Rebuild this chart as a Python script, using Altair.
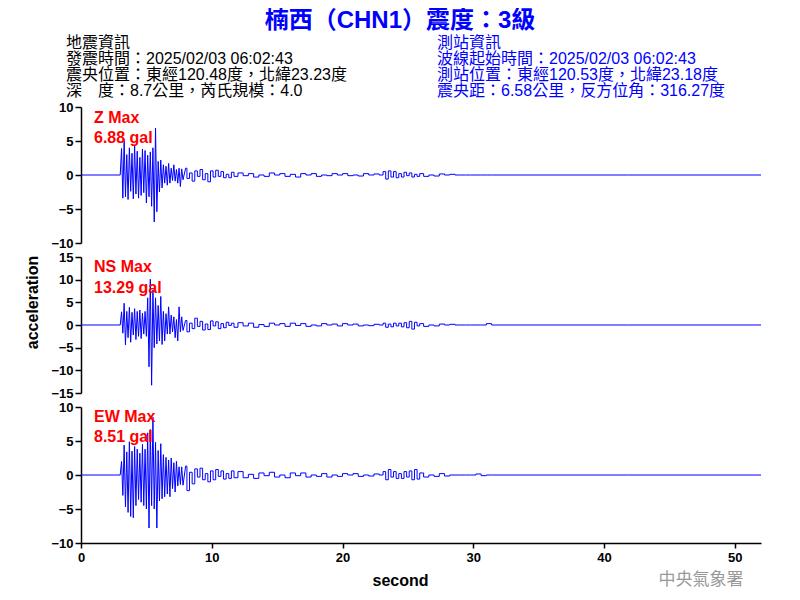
import altair as alt
import pandas as pd

# ---------------- data ----------------
TIME = [0.0, 3.0,
        3.1, 3.2, 3.3, 3.4, 3.5, 3.6, 3.7, 3.8, 3.9, 4.0,
        4.1, 4.2, 4.3, 4.4, 4.5, 4.6, 4.7, 4.8, 4.9, 5.0,
        5.1, 5.2, 5.3, 5.4, 5.5, 5.6, 5.7, 5.8, 5.9, 6.0,
        6.1, 6.2, 6.3, 6.4, 6.5, 6.6, 6.7, 6.8, 6.9, 7.0,
        7.1, 7.2, 7.3, 7.4, 7.5, 7.6, 7.7, 7.8,
        8.0, 8.2, 8.4, 8.6, 8.8, 9.0, 9.2, 9.4, 9.6, 9.8,
        10.0, 10.2, 10.4, 10.6, 10.8, 11.0, 11.2, 11.4, 11.6, 11.8,
        12.2, 12.6, 13.0, 13.4, 13.8, 14.2, 14.6, 15.0, 15.4, 15.8,
        16.2, 16.6, 17.0, 17.4, 17.8, 18.2, 18.6, 19.0, 19.4, 19.8,
        20.2, 20.6, 21.0, 21.4, 21.8, 22.2, 22.6,
        23.0,
        23.2, 23.4, 23.6, 23.8, 24.0, 24.2, 24.4, 24.6, 24.8, 25.0,
        25.2, 25.4, 25.6, 25.8, 26.0,
        26.4, 26.8, 27.2, 27.6, 28.0, 28.4, 28.8, 29.2, 29.6, 30.0,
        30.4, 30.8, 31.2,
        31.6, 52.0]

Z_A = [3.9, -3.4, 5.3, -3.2, 3.0, -3.6, 4.0, -2.4, 3.2, -3.5,
       4.4, -2.8, 3.5, -3.4, 2.6, -3.0, 3.8, -2.6, 3.6, -4.1,
       2.9, -3.2, 3.4, -4.6, 4.0, -6.9, 6.88, -5.4, 2.0, -2.5,
       2.2, -1.9, 1.5, -1.2, 1.3, -1.5, 1.7, -1.2, 1.0, -0.8,
       1.5, -0.9, 0.8, -1.2, 1.0, -1.7, 0.9, -0.7]
Z_B = [1.0, -0.5, 0.3, -0.9, 0.6, -0.2, 0.8, -0.7, 0.2, -1.0,
       0.6, -0.3, 0.7, -0.2, 0.5, -0.4, 0.1, -0.4, 0.4, -0.2]
Z_C = [0.3, -0.1, 0.2, -0.3, 0.0, -0.2, 0.3, 0.0, 0.2, -0.2,
       0.1, -0.3, 0.2, 0.0, 0.2, -0.2, 0.0, -0.1, 0.2, 0.0,
       0.2, -0.1, 0.0, -0.15, 0.2, 0.0, 0.15]
Z_D = [0.5, -0.6, 0.6, -0.3, 0.5, -0.4, 0.2, -0.3, 0.4, -0.1,
       0.3, -0.3, 0.1, -0.2, 0.2]
Z_E = [-0.2, 0.0, -0.15, 0.15, 0.0, 0.1, 0, 0, 0, 0, 0, 0, 0]

NS_A = [2.9, -1.8, 4.8, -4.4, 3.0, -2.8, 3.9, -3.8, 2.8, -2.2,
        3.6, -3.2, 3.0, -2.5, 3.3, -3.0, 2.6, -2.0, 3.0, -2.5,
        6.0, -9.2, 10.1, -13.29, 7.7, -5.0, 6.0, -4.2, 4.3, -3.5,
        6.3, -4.3, 3.0, -3.5, 2.5, -2.0, 4.0, -2.0, 2.2, -1.5,
        1.8, -2.8, 1.2, -3.5, 4.0, -1.5, 1.8, -1.2]
NS_B = [1.0, -1.5, 0.4, -0.8, 1.5, -0.3, 0.8, -1.1, 0.2, -1.0,
        0.9, -0.2, 0.7, -0.8, 0.3, -0.6, 0.6, -0.1, 0.4, -0.5]
NS_C = [0.5, -0.2, 0.4, -0.5, 0.1, -0.3, 0.4, 0.0, 0.3, -0.3,
        0.4, -0.1, 0.3, -0.3, 0.0, -0.2, 0.3, 0.0, 0.2, -0.2,
        0.3, 0.0, 0.2, -0.2, 0.0, -0.15, 0.15]
NS_D = [0.4, -0.5, 0.2, -0.4, 0.4, -0.2, 0.4, -0.4, 0.5, -0.6,
        0.8, -0.9, 0.6, -0.2, 0.3]
NS_E = [-0.3, 0.0, -0.2, 0.2, 0.0, 0.15, 0, 0, 0, 0, 0, 0, 0.3]

EW_A = [2.0, -3.0, 4.4, -4.7, 3.4, -5.5, 4.9, -6.1, 3.5, -6.3,
        4.2, -4.5, 3.8, -3.6, 3.2, -4.0, 4.5, -4.5, 3.8, -5.0,
        6.2, -7.8, 6.7, -4.5, 8.51, -5.0, 4.8, -7.8, 3.6, -3.8,
        4.6, -3.5, 3.0, -3.2, 2.6, -2.8, 2.2, -3.2, 2.5, -2.0,
        1.8, -2.5, 2.0, -1.6, 1.2, -1.4, 1.2, -1.5]
EW_B = [1.3, -2.3, 0.4, -1.3, 0.9, -0.3, 1.0, -0.7, 0.2, -1.0,
        0.6, -0.7, 0.8, -0.2, 0.6, -0.6, 0.2, -0.5, 0.6, -0.4]
EW_C = [0.5, -0.4, 0.1, -0.5, 0.3, -0.1, 0.4, -0.3, 0.0, -0.4,
        0.3, -0.1, 0.3, -0.3, 0.0, -0.2, 0.2, -0.3, 0.0, -0.2,
        0.2, 0.0, 0.2, -0.2, 0.0, -0.15, 0.15]
EW_D = [0.5, -0.7, 0.8, -0.3, 0.5, -0.5, 0.2, -0.5, 0.5, -0.3,
        0.6, -0.7, 0.8, -0.6, 0.3]
EW_E = [-0.3, 0.0, -0.2, 0.2, -0.15, 0.0, 0, 0, 0, 0, 0.15, -0.1, 0]

COMPONENTS = ["Z", "NS", "EW"]
MAX_LABELS = ["Z Max\n6.88 gal", "NS Max\n13.29 gal", "EW Max\n8.51 gal"]
Y_DOMAINS = [[-10, 10], [-15, 15], [-10, 10]]
Y_TICKS = [[-10, -5, 0, 5, 10], [-15, -10, -5, 0, 5, 10, 15], [-10, -5, 0, 5, 10]]
X_TICKS = [0, 10, 20, 30, 40, 50]

TITLE = "楠西（CHN1）震度：3級"
LEFT_INFO = "地震資訊\n發震時間：2025/02/03 06:02:43\n震央位置：東經120.48度，北緯23.23度\n深　度：8.7公里，芮氏規模：4.0"
RIGHT_INFO = "測站資訊\n波線起始時間：2025/02/03 06:02:43\n測站位置：東經120.53度，北緯23.18度\n震央距：6.58公里，反方位角：316.27度"
MARK = "中央氣象署"


def assemble(a, b, c, d, e):
    return [0, 0] + a + b + c + [0] + d + e + [0, 0]


SERIES = {
    "Z": assemble(Z_A, Z_B, Z_C, Z_D, Z_E),
    "NS": assemble(NS_A, NS_B, NS_C, NS_D, NS_E),
    "EW": assemble(EW_A, EW_B, EW_C, EW_D, EW_E),
}

# ---------------- styling ----------------
LAT = "Liberation Sans, 'Noto Sans CJK TC', sans-serif"
BLUE = "#0000FF"
W, H = 680, 535
Y_RANGES = [[235, 99], [385, 249], [535, 399]]
LABEL_Y = [110, 259, 409]
LABEL_LH = [20, 21, 20]
SPLIT = 51  # strong motion drawn as a plain line, coda drawn stepwise

x_axis = alt.Axis(values=X_TICKS, grid=False, domainColor="black", domainWidth=1.5,
                  tickColor="black", tickWidth=1.5, tickSize=5, labelFlush=False,
                  labelFont=LAT, labelFontSize=13, labelFontWeight="bold",
                  labelColor="black", labelPadding=3,
                  title="second", titleFont=LAT, titleFontSize=16, titleFontWeight="bold",
                  titleColor="black", titleX=319, titleY=37, titleAlign="center",
                  titleBaseline="middle")


def y_axis(i):
    kw = dict(values=Y_TICKS[i], orient="left", grid=False, domainColor="black",
              domainWidth=1.5, tickColor="black", tickWidth=1.5, tickSize=6,
              labelFont=LAT, labelFontSize=13, labelFontWeight="bold",
              labelColor="black", labelPadding=2, labelOverlap=False)
    if i == 1:
        kw.update(title="acceleration", titleFont=LAT, titleFontSize=16,
                  titleFontWeight="bold", titleColor="black", titleX=-49, titleY=294,
                  titleAngle=-90, titleAlign="center", titleBaseline="middle")
    else:
        kw.update(title=None)
    return alt.Axis(**kw)


layers = []
for i, comp in enumerate(COMPONENTS):
    df = pd.DataFrame({"t": TIME, "value": SERIES[comp]})
    xs = alt.X("t:Q", scale=alt.Scale(domain=[0, 52], nice=False, zero=False), axis=x_axis)
    ysc = alt.Scale(domain=Y_DOMAINS[i], range=Y_RANGES[i], nice=False)
    layers.append(
        alt.Chart(df.iloc[:SPLIT]).mark_line(color=BLUE, strokeWidth=1).encode(
            x=xs, y=alt.Y("value:Q", scale=ysc, axis=y_axis(i)))
    )
    layers.append(
        alt.Chart(df.iloc[SPLIT - 1:]).mark_line(color=BLUE, strokeWidth=1, interpolate="step").encode(
            x=xs, y=alt.Y("value:Q", scale=ysc, axis=None))
    )

one = pd.DataFrame({"k": [0]})


def text_layer(text, x, y, color, size, weight="normal", align="left", line_height=None):
    mk = dict(align=align, baseline="middle", color=color, fontSize=size, font=LAT,
              fontWeight=weight)
    if line_height is not None:
        mk.update(lineBreak="\n", lineHeight=line_height)
    return alt.Chart(one).mark_text(**mk).encode(
        x=alt.value(x), y=alt.value(y), text=alt.value(text))


layers.append(text_layer(TITLE, 319, 13, BLUE, 24, weight="bold", align="center"))
layers.append(text_layer(LEFT_INFO, -15, 35, "black", 16, line_height=16))
layers.append(text_layer(RIGHT_INFO, 356, 35, BLUE, 16, line_height=16))
for i in range(3):
    layers.append(text_layer(MAX_LABELS[i], 13, LABEL_Y[i], "#FF0000", 16, weight="bold",
                             line_height=LABEL_LH[i]))
layers.append(text_layer(MARK, 620, 572, "#999999", 17, align="center"))

chart = alt.layer(*layers).resolve_scale(y="independent").resolve_axis(y="independent").properties(
    width=W, height=H,
    autosize=alt.AutoSizeParams(type="none"),
    padding={"left": 73, "top": 0, "right": 31, "bottom": 49},
).configure_view(strokeWidth=0)

chart.save("out.html", embed_options={"renderer": "svg", "actions": False})
